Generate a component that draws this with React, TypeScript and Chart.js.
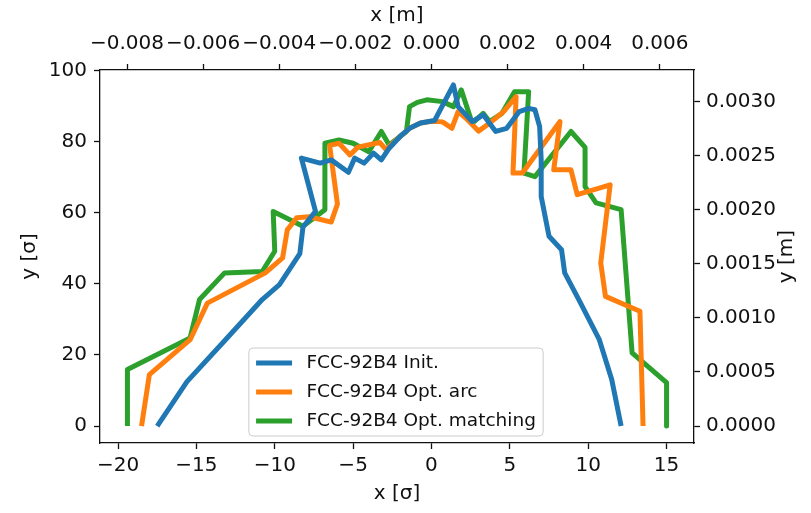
import React, { useEffect, useRef } from 'react';
import { Chart, registerables } from 'chart.js';

Chart.register(...registerables);

// ---- data ----
const initX = [-17.5, -15.6, -13.2, -10.8, -9.7, -8.4, -8.2, -7.4, -8.3, -7.1, -6.4, -5.3, -4.9, -4.3, -3.7, -3.2, -2.7, -2.0, -1.4, -0.7, 0.2, 1.4, 1.7, 2.6, 3.3, 4.1, 4.8, 5.6, 6.2, 6.6, 6.9, 7.0, 7.0, 7.5, 8.3, 8.5, 9.4, 10.7, 11.5, 12.1];
const initY = [0, 12.5, 24, 35.6, 39.8, 48.5, 56, 60.4, 75.4, 74, 74.9, 71.4, 75.4, 74, 76.8, 74.9, 78.2, 81.5, 83.8, 85.3, 86, 96, 89.9, 85.7, 87.6, 82.9, 83.8, 88.5, 89.4, 89, 84.3, 74.9, 64.6, 53.4, 49.6, 43.1, 35.6, 24.4, 13.1, 0];

const arcX = [-18.5, -18.0, -15.4, -14.3, -10.6, -9.5, -9.2, -8.6, -7.8, -6.4, -6.0, -6.5, -5.9, -5.2, -4.7, -3.3, -2.9, -2.0, -1.4, -0.7, 0.0, 0.7, 1.3, 1.7, 2.2, 3.0, 3.7, 4.6, 5.4, 5.2, 5.8, 8.2, 7.8, 8.9, 9.3, 11.4, 10.8, 11.1, 13.3, 13.5];
const arcY = [0, 14.5, 24.3, 34.6, 43.1, 47.3, 55.2, 58.6, 58.9, 57.4, 62.5, 79, 79.6, 76.3, 78.5, 79.8, 77.8, 81.5, 83.8, 85.3, 85.8, 85.6, 83.8, 88.5, 86.6, 83, 85.2, 88.5, 92.7, 71.2, 71.2, 85.7, 72.1, 72.1, 65.1, 67.9, 45.9, 36.5, 32.3, 0];

const matchX = [-19.4, -19.4, -15.4, -14.8, -13.2, -10.8, -10.0, -10.1, -8.2, -6.8, -6.8, -5.9, -5.0, -4.0, -3.2, -2.7, -1.6, -1.4, -0.9, -0.3, 0.7, 1.4, 1.9, 2.6, 3.3, 3.7, 4.5, 5.3, 6.2, 5.9, 6.6, 8.9, 9.8, 9.8, 10.5, 12.1, 12.8, 15.0, 15.0];
const matchY = [0, 15.9, 24.8, 35.6, 43.1, 43.5, 49.2, 60.4, 56.2, 60.9, 79.6, 80.5, 79.6, 77.2, 82.9, 79.1, 82.9, 89.9, 91.1, 91.8, 91.3, 89.9, 94.6, 85.2, 88, 85.7, 88, 94.1, 94.1, 71.2, 70.2, 82.9, 78.4, 67.4, 62.8, 60.9, 20.6, 12.2, 0];

const seriesLabels = ['FCC-92B4 Init.', 'FCC-92B4 Opt. arc', 'FCC-92B4 Opt. matching'];
const seriesColors = ['#1f77b4', '#ff7f0e', '#2ca02c'];

const xSigmaTicks = [-20, -15, -10, -5, 0, 5, 10, 15];
const ySigmaTicks = [0, 20, 40, 60, 80, 100];
const xMeterTicks = [-0.008, -0.006, -0.004, -0.002, 0, 0.002, 0.004, 0.006];
const yMeterTicks = [0, 0.0005, 0.001, 0.0015, 0.002, 0.0025, 0.003];

const xSigmaRange = [-21.15, 16.75];
const ySigmaRange = [-4.77, 100.2];
const X_M_PER_SIGMA = 0.0004118;
const Y_M_PER_SIGMA = 3.284e-5;

const titles = { xBottom: 'x [σ]', xTop: 'x [m]', yLeft: 'y [σ]', yRight: 'y [m]' };

const FONT = 'DejaVu Sans';
const FS = 20;
const LEGEND_FS = 18.5;
const INK = '#111111';

const fmt = (v: number, d: number) => v.toFixed(d).replace('-', '\u2212');

const toPts = (xs: number[], ys: number[]) => xs.map((x, i) => ({ x, y: ys[i] }));

const overlayPlugin = {
  id: 'mplOverlay',
  afterDraw(chart: any) {
    const { ctx, chartArea } = chart;
    ctx.save();
    ctx.font = `${LEGEND_FS}px "${FONT}"`;
    const labels: string[] = chart.data.datasets.map((d: any) => d.label);
    const tw = Math.max(...labels.map((l) => ctx.measureText(l).width));
    const pad = 7.2, handle = 36, gap = 14.4, rowH = 29;
    const w = pad + handle + gap + tw + pad;
    const h = 88;
    const left = (chartArea.left + chartArea.right) / 2 - w / 2 - 1;
    const top = chartArea.bottom - 7 - h;
    ctx.beginPath();
    ctx.roundRect(left, top, w, h, 4);
    ctx.fillStyle = 'rgba(255,255,255,0.8)';
    ctx.fill();
    ctx.strokeStyle = '#cccccc';
    ctx.lineWidth = 1;
    ctx.stroke();
    chart.data.datasets.forEach((d: any, i: number) => {
      const cy = top + 15 + i * rowH;
      ctx.beginPath();
      ctx.moveTo(left + pad, cy);
      ctx.lineTo(left + pad + handle, cy);
      ctx.strokeStyle = d.borderColor;
      ctx.lineWidth = 5;
      ctx.lineCap = 'butt';
      ctx.stroke();
      ctx.fillStyle = INK;
      ctx.textBaseline = 'middle';
      ctx.textAlign = 'left';
      ctx.fillText(d.label, left + pad + handle + gap, cy);
    });
    // right axis title, reading bottom-to-top like matplotlib
    ctx.font = `${FS}px "${FONT}"`;
    ctx.translate(787, (chartArea.top + chartArea.bottom) / 2);
    ctx.rotate(-Math.PI / 2);
    ctx.textAlign = 'center';
    ctx.textBaseline = 'middle';
    ctx.fillStyle = INK;
    ctx.fillText(titles.yRight, 0, 0);
    ctx.restore();
  },
};

const grid = { drawOnChartArea: false, drawTicks: true, tickLength: 6, tickWidth: 1.3, tickColor: INK };
const border = { display: true, color: INK, width: 1.3 };
const tickFont = { family: FONT, size: FS };

export default function App() {
  const ref = useRef<HTMLCanvasElement | null>(null);
  useEffect(() => {
    if (!ref.current) return;
    const chart = new Chart(ref.current, {
      type: 'scatter',
      data: {
        datasets: [
          { label: seriesLabels[0], data: toPts(initX, initY), borderColor: seriesColors[0], backgroundColor: seriesColors[0] },
          { label: seriesLabels[1], data: toPts(arcX, arcY), borderColor: seriesColors[1], backgroundColor: seriesColors[1] },
          { label: seriesLabels[2], data: toPts(matchX, matchY), borderColor: seriesColors[2], backgroundColor: seriesColors[2] },
        ].map((d) => ({
          ...d,
          showLine: true,
          borderWidth: 5,
          pointRadius: 0,
          pointHoverRadius: 0,
          tension: 0,
          borderJoinStyle: 'round' as const,
          borderCapStyle: 'butt' as const,
          xAxisID: 'x',
          yAxisID: 'y',
        })),
      },
      options: {
        animation: false,
        responsive: false,
        events: [],
        layout: { padding: 0 },
        plugins: { legend: { display: false }, tooltip: { enabled: false } },
        scales: {
          x: {
            type: 'linear',
            position: 'bottom',
            min: xSigmaRange[0],
            max: xSigmaRange[1],
            afterBuildTicks: (s: any) => { s.ticks = xSigmaTicks.map((v) => ({ value: v })); },
            afterFit: (s: any) => { s.height = 70; },
            ticks: { callback: (v: any) => fmt(Number(v), 0), font: tickFont, color: INK, padding: 5, maxRotation: 0, autoSkip: false },
            grid, border,
            title: { display: true, text: titles.xBottom, font: tickFont, color: INK, padding: { top: 0, bottom: 7 } },
          },
          x2: {
            type: 'linear',
            position: 'top',
            min: xSigmaRange[0] * X_M_PER_SIGMA,
            max: xSigmaRange[1] * X_M_PER_SIGMA,
            afterBuildTicks: (s: any) => { s.ticks = xMeterTicks.map((v) => ({ value: v })); },
            afterFit: (s: any) => { s.height = 70; },
            ticks: { callback: (v: any) => fmt(Number(v), 3), font: tickFont, color: INK, padding: 8, maxRotation: 0, autoSkip: false },
            grid, border,
            title: { display: true, text: titles.xTop, font: tickFont, color: INK, padding: { top: 4, bottom: 0 } },
          },
          y: {
            type: 'linear',
            position: 'left',
            min: ySigmaRange[0],
            max: ySigmaRange[1],
            afterBuildTicks: (s: any) => { s.ticks = ySigmaTicks.map((v) => ({ value: v })); },
            afterFit: (s: any) => { s.width = 100; },
            ticks: { callback: (v: any) => fmt(Number(v), 0), font: tickFont, color: INK, padding: 7, autoSkip: false },
            grid, border,
            title: { display: true, text: titles.yLeft, font: tickFont, color: INK, padding: { top: 18, bottom: 0 } },
          },
          y2: {
            type: 'linear',
            position: 'right',
            min: ySigmaRange[0] * Y_M_PER_SIGMA,
            max: ySigmaRange[1] * Y_M_PER_SIGMA,
            afterBuildTicks: (s: any) => { s.ticks = yMeterTicks.map((v) => ({ value: v })); },
            afterFit: (s: any) => { s.width = 117; },
            ticks: { callback: (v: any) => fmt(Number(v), 4), font: tickFont, color: INK, padding: 6, autoSkip: false },
            grid, border,
            title: { display: false },
          },
        },
      } as any,
      plugins: [overlayPlugin],
    });
    return () => chart.destroy();
  }, []);
  return (
    <div style={{ position: 'absolute', left: 0, top: 0, width: 811, height: 513, background: '#fff' }}>
      <canvas ref={ref} width={811} height={513} style={{ display: 'block' }} />
    </div>
  );
}
